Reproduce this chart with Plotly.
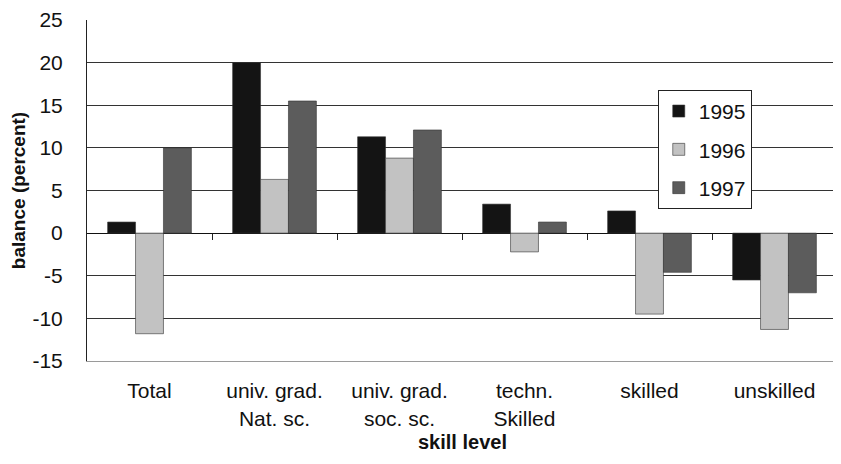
import plotly.graph_objects as go

categories = ["Total", "univ. grad.<br>Nat. sc.", "univ. grad.<br>soc. sc.",
              "techn.<br>Skilled", "skilled", "unskilled"]
years = ["1995", "1996", "1997"]
v1995 = [1.3, 20.0, 11.3, 3.4, 2.6, -5.5]
v1996 = [-11.8, 6.3, 8.8, -2.2, -9.5, -11.3]
v1997 = [10.0, 15.5, 12.1, 1.3, -4.6, -7.0]
colors = ["#141414", "#c2c2c2", "#5c5c5c"]
y_ticks = [-15, -10, -5, 0, 5, 10, 15, 20, 25]
y_ticktext = ["-15", "-10", "-5", "0", "5", "10", "15", "20", "25"]
boundaries = [0.5, 1.5, 2.5, 3.5, 4.5]

x_idx = list(range(len(categories)))
fig = go.Figure()
for i, (name, vals) in enumerate(zip(years, [v1995, v1996, v1997])):
    fig.add_trace(go.Bar(
        x=x_idx, y=vals, name=name, legendgroup=name,
        marker=dict(color=colors[i], line=dict(color="#333333", width=0.6)),
    ))
# empty helper trace so the overlay axis with category-boundary ticks at y=0 is drawn
fig.add_trace(go.Scatter(x=[], y=[], xaxis="x2", showlegend=False, hoverinfo="skip"))

fig.update_layout(
    width=833, height=448,
    margin=dict(l=79, r=4, t=12, b=95),
    paper_bgcolor="white", plot_bgcolor="white",
    barmode="group", bargap=0.33, bargroupgap=0,
    font=dict(family="Liberation Sans, Arial, sans-serif", color="#111111", size=21),
    legend=dict(x=0.761, y=0.795, xanchor="left", yanchor="top",
                bordercolor="#222222", borderwidth=1, bgcolor="white",
                font=dict(size=21), traceorder="grouped", tracegroupgap=8,
                itemwidth=30),
    xaxis=dict(
        range=[-0.5, 5.5], tickvals=x_idx, ticktext=categories,
        showgrid=False, zeroline=False, showline=True, linecolor="#9a9a9a",
        linewidth=1, ticks="",
        tickfont=dict(size=21), automargin=False,
        ticklabelstandoff=11,
    ),
    xaxis2=dict(
        overlaying="x", anchor="free", position=0.375, range=[-0.5, 5.5],
        tickvals=boundaries, showticklabels=False,
        ticks="outside", ticklen=6, tickcolor="#222222", showline=False,
        showgrid=False, zeroline=False,
    ),
    yaxis=dict(
        range=[-15, 25], tickvals=y_ticks, ticktext=y_ticktext, showgrid=False,
        minor=dict(tickvals=y_ticks[1:], showgrid=True, gridcolor="#333333",
                   gridwidth=1, ticks=""),
        zeroline=True, zerolinecolor="#111111", zerolinewidth=1,
        showline=True, linecolor="#222222", linewidth=1, ticks="",
        ticklabelstandoff=19, tickfont=dict(size=21), automargin=False,
        title=dict(text="<b>balance (percent)</b>", font=dict(size=19), standoff=4),
    ),
    annotations=[dict(
        text="<b>skill level</b>", xref="paper", yref="paper", x=0.5, y=-0.238,
        xanchor="center", yanchor="middle", showarrow=False, font=dict(size=20),
    )],
)

fig.write_html("out.html")
